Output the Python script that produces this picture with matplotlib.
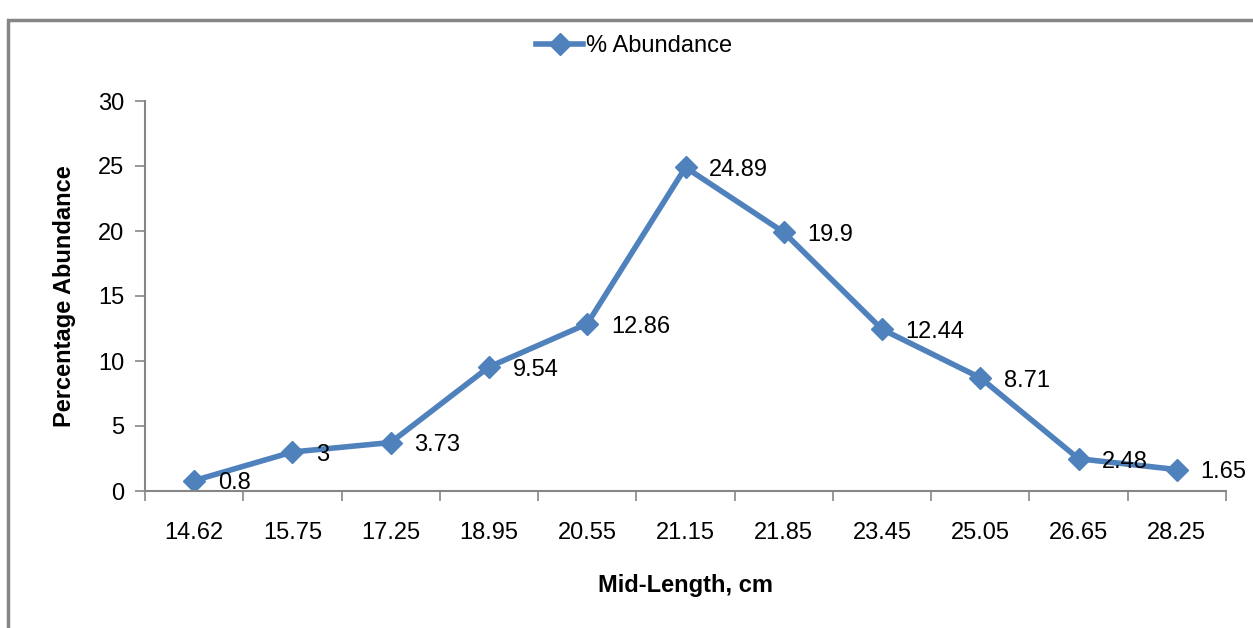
import matplotlib.pyplot as plt
from matplotlib.patches import Rectangle
import numpy as np

# Data
mid_length = ['14.62', '15.75', '17.25', '18.95', '20.55', '21.15',
              '21.85', '23.45', '25.05', '26.65', '28.25']
abundance = [0.8, 3, 3.73, 9.54, 12.86, 24.89, 19.9, 12.44, 8.71, 2.48, 1.65]
value_labels = ['0.8', '3', '3.73', '9.54', '12.86', '24.89', '19.9',
                '12.44', '8.71', '2.48', '1.65']

plt.rcParams['font.family'] = ['Liberation Sans Narrow', 'Liberation Sans', 'DejaVu Sans']

blue = '#4F81BD'
grey = '#868686'
fs = 17

fig = plt.figure(figsize=(12.53, 6.28), dpi=100)
ax = fig.add_axes([145 / 1253, 1 - 491 / 628, (1226 - 145) / 1253, (491 - 101) / 628])

x = np.arange(len(mid_length))
line, = ax.plot(x, abundance, color=blue, linewidth=4, marker='D',
                markersize=11, label='% Abundance')

# Data labels to the right of each point
for xi, yi, lab in zip(x, abundance, value_labels):
    ax.annotate(lab, (xi, yi), xytext=(17, -2), textcoords='offset points',
                ha='left', va='center', fontsize=fs)

ax.set_xlim(-0.5, len(mid_length) - 0.5)
ax.set_ylim(0, 30)
ax.set_yticks(range(0, 31, 5))
ax.tick_params(axis='y', labelsize=fs, length=7, color=grey, width=1.2, pad=8)
ax.set_xticks(x)
ax.set_xticklabels(mid_length, fontsize=fs)
ax.tick_params(axis='x', length=0, pad=22)
# category boundary ticks
ax.set_xticks(np.arange(-0.5, len(mid_length)), minor=True)
ax.tick_params(axis='x', which='minor', length=7, color=grey, width=1.2)

for side in ['top', 'right']:
    ax.spines[side].set_visible(False)
for side in ['left', 'bottom']:
    ax.spines[side].set_color(grey)
    ax.spines[side].set_linewidth(1.5)

ax.set_ylabel('Percentage Abundance', fontsize=fs, fontweight='bold', labelpad=16)
ax.set_xlabel('Mid-Length, cm', fontsize=fs, fontweight='bold', labelpad=22)

fig.legend(handles=[line], loc='center', bbox_to_anchor=(634 / 1253, 1 - 46 / 628),
           frameon=False, fontsize=fs, handlelength=2.0, handletextpad=0.1)

# Chart border
fig.patches.append(Rectangle((8 / 1253, -0.1), 1.2, 1 - 20 / 628 + 0.1,
                             transform=fig.transFigure, fill=False,
                             edgecolor=grey, linewidth=2.5))

plt.savefig('out.png', dpi=100)
